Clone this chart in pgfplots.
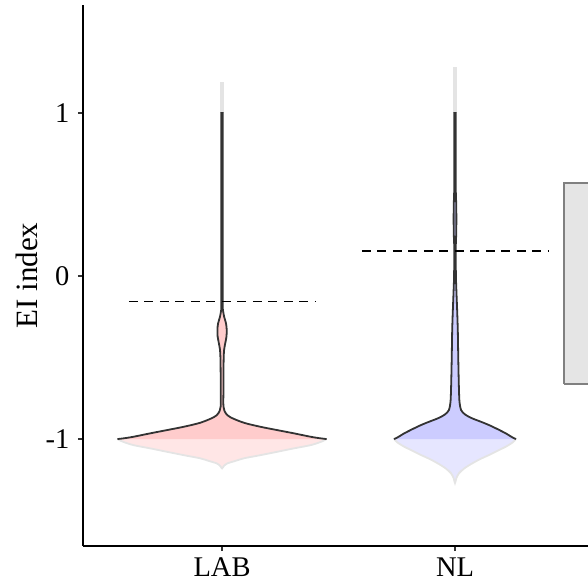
\documentclass[border=0pt]{standalone}
\usepackage{fontspec}
\setmainfont{Liberation Serif}
\usepackage{pgfplots}
\pgfplotsset{compat=1.18}
\usepackage{pgfplotstable}
\usetikzlibrary{calc}

\definecolor{labfill}{RGB}{255,204,204}
\definecolor{lablight}{RGB}{255,230,230}
\definecolor{nlfill}{RGB}{204,204,255}
\definecolor{nllight}{RGB}{230,230,255}
\definecolor{edge}{RGB}{51,51,51}
\definecolor{lightedge}{RGB}{228,228,228}
\definecolor{boxfill}{RGB}{229,229,229}
\definecolor{boxedge}{RGB}{128,128,128}

% violin outlines: offset from the group centre (dx) against EI index (y),
% right side upwards, then left side downwards
% LAB, inside [-1,1]
\pgfplotstableread{
dx y
0.449 -1.000
0.420 -0.995
0.381 -0.986
0.309 -0.965
0.237 -0.945
0.166 -0.925
0.094 -0.900
0.037 -0.867
0.016 -0.842
0.006 -0.800
0.006 -0.700
0.006 -0.600
0.007 -0.500
0.009 -0.450
0.014 -0.410
0.019 -0.370
0.020 -0.330
0.017 -0.290
0.009 -0.250
0.004 -0.210
0.003 -0.180
0.003 0.000
0.003 0.500
0.003 0.950
0.003 0.990
0.003 1.000
-0.003 1.000
-0.003 0.990
-0.003 0.950
-0.003 0.500
-0.003 0.000
-0.003 -0.180
-0.004 -0.210
-0.009 -0.250
-0.017 -0.290
-0.020 -0.330
-0.019 -0.370
-0.014 -0.410
-0.009 -0.450
-0.007 -0.500
-0.006 -0.600
-0.006 -0.700
-0.006 -0.800
-0.016 -0.842
-0.037 -0.867
-0.094 -0.900
-0.166 -0.925
-0.237 -0.945
-0.309 -0.965
-0.381 -0.986
-0.420 -0.995
-0.449 -1.000
}\labmain
% LAB, below -1 (left to right)
\pgfplotstableread{
dx y
-0.449 -1.000
-0.428 -1.015
-0.381 -1.037
-0.305 -1.058
-0.237 -1.078
-0.160 -1.100
-0.094 -1.118
-0.055 -1.135
-0.023 -1.149
-0.008 -1.165
0.000 -1.180
0.008 -1.165
0.023 -1.149
0.055 -1.135
0.094 -1.118
0.160 -1.100
0.237 -1.078
0.305 -1.058
0.381 -1.037
0.428 -1.015
0.449 -1.000
}\lablow
% LAB, above 1
\pgfplotstableread{
dx y
0.003 1.000
0.003 1.182
-0.003 1.182
-0.003 1.000
}\labtop

% NL, inside [-1,1]
\pgfplotstableread{
dx y
0.262 -1.000
0.247 -0.990
0.218 -0.965
0.184 -0.940
0.146 -0.914
0.110 -0.893
0.074 -0.873
0.044 -0.850
0.026 -0.822
0.020 -0.780
0.018 -0.740
0.016 -0.640
0.014 -0.500
0.012 -0.330
0.009 -0.200
0.006 -0.090
0.004 0.000
0.003 0.160
0.005 0.250
0.006 0.350
0.005 0.450
0.003 0.550
0.003 0.700
0.003 0.950
0.003 0.990
0.003 1.000
-0.003 1.000
-0.003 0.990
-0.003 0.950
-0.003 0.700
-0.003 0.550
-0.005 0.450
-0.006 0.350
-0.005 0.250
-0.003 0.160
-0.004 0.000
-0.006 -0.090
-0.009 -0.200
-0.012 -0.330
-0.014 -0.500
-0.016 -0.640
-0.018 -0.740
-0.020 -0.780
-0.026 -0.822
-0.044 -0.850
-0.074 -0.873
-0.110 -0.893
-0.146 -0.914
-0.184 -0.940
-0.218 -0.965
-0.247 -0.990
-0.262 -1.000
}\nlmain
% NL, below -1 (left to right)
\pgfplotstableread{
dx y
-0.262 -1.000
-0.248 -1.020
-0.218 -1.047
-0.185 -1.070
-0.146 -1.098
-0.112 -1.120
-0.074 -1.149
-0.040 -1.180
-0.017 -1.210
-0.006 -1.240
0.000 -1.270
0.006 -1.240
0.017 -1.210
0.040 -1.180
0.074 -1.149
0.112 -1.120
0.146 -1.098
0.185 -1.070
0.218 -1.047
0.248 -1.020
0.262 -1.000
}\nllow
% NL, above 1
\pgfplotstableread{
dx y
0.003 1.000
0.003 1.280
-0.003 1.280
-0.003 1.000
}\nltop

\begin{document}
\begin{tikzpicture}
\begin{axis}[
  name=ax,
  scale only axis,
  width=505pt, height=541pt,
  xmin=-0.597, xmax=1.571,
  ymin=-1.656, ymax=1.663,
  axis x line*=bottom, axis y line*=left,
  axis line style={line width=1.6pt, black},
  xtick={0,1}, xticklabels={LAB,NL},
  ytick={-1,0,1}, yticklabels={{-1},{0},{1}},
  tick align=outside,
  major tick length=5pt,
  tick style={line width=1.6pt, black!80},
  ticklabel style={font=\fontsize{28.5}{30}\selectfont, text=black},
  xticklabel style={anchor=base, yshift=-25pt},
  yticklabel style={anchor=east, inner sep=0pt, xshift=-8.5pt},
  ylabel={EI index},
  every axis y label/.style={at={(axis description cs:0,0.5)}, xshift=-56pt,
    rotate=90, anchor=center, font=\fontsize{31}{34}\selectfont},
]
% partly hidden box at the right edge
\addplot[fill=boxfill, draw=boxedge, line width=2pt] coordinates
  {(1.469,-0.663) (2.6,-0.663) (2.6,0.569) (1.469,0.569) (1.469,-0.663)};

% ---- LAB violin (centre 0)
\addplot[fill=lablight, draw=lightedge, line width=1.8pt, smooth] table[x expr=\thisrow{dx}, y=y]{\lablow};
\addplot[fill=lablight, draw=lightedge, line width=1.8pt] table[x expr=\thisrow{dx}, y=y]{\labtop};
\addplot[fill=labfill, draw=edge, line width=1.8pt, smooth] table[x expr=\thisrow{dx}, y=y]{\labmain};

% ---- NL violin (centre 1)
\addplot[fill=nllight, draw=lightedge, line width=1.8pt, smooth] table[x expr=1+\thisrow{dx}, y=y]{\nllow};
\addplot[fill=nllight, draw=lightedge, line width=1.8pt] table[x expr=1+\thisrow{dx}, y=y]{\nltop};
\addplot[fill=nlfill, draw=edge, line width=1.8pt, smooth] table[x expr=1+\thisrow{dx}, y=y]{\nlmain};

% group means
\addplot[black, line width=1.5pt, dash pattern=on 9pt off 6.5pt] coordinates {(-0.4,-0.157) (0.4,-0.157)};
\addplot[black, line width=1.5pt, dash pattern=on 9pt off 6.5pt] coordinates {(0.6,0.155) (1.4,0.155)};
\end{axis}
\pgfresetboundingbox
\path[use as bounding box] ($(ax.south west)+(-83pt,-35pt)$) rectangle ($(ax.north east)+(0pt,5pt)$);
\end{tikzpicture}
\end{document}
